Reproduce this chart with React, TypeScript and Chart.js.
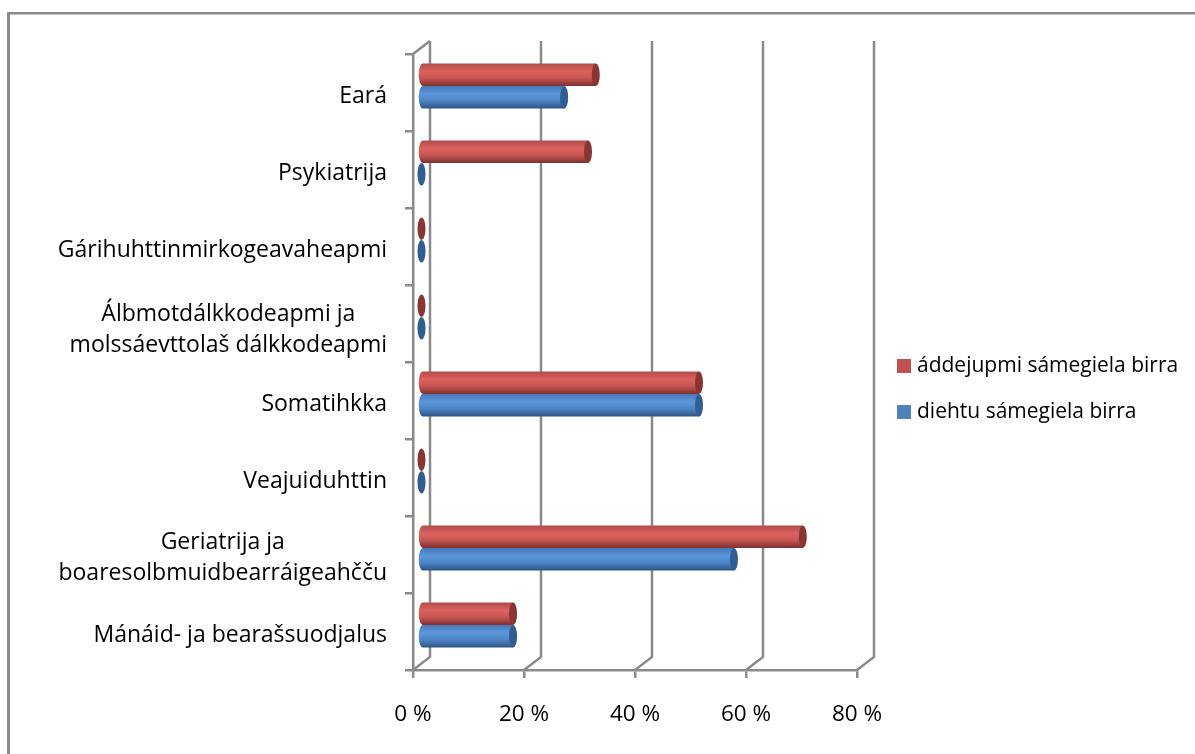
import React, { useEffect, useRef } from "react";
import { Chart, registerables } from "chart.js";

Chart.register(...registerables);

const categories: (string | string[])[] = [
  "Eará",
  "Psykiatrija",
  "Gárihuhttinmirkogeavaheapmi",
  ["Álbmotdálkkodeapmi ja", "molssáevttolaš dálkkodeapmi"],
  "Somatihkka",
  "Veajuiduhttin",
  ["Geriatrija ja", "boaresolbmuidbearráigeahčču"],
  "Mánáid- ja bearašsuodjalus",
];
const addedValues = [31.4, 30, 0, 0, 50, 0, 68.7, 16.5];
const knowledgeValues = [25.7, 0, 0, 0, 50, 0, 56.3, 16.5];
const seriesNames = ["áddejupmi sámegiela birra", "diehtu sámegiela birra"];
const tickValues = [0, 20, 40, 60, 80];

const FONT = "'Open Sans', Lato, sans-serif";
const AXIS_SIZE = 23;
const TICK_SIZE = 22.5;
const LEGEND_SIZE = 21;
const GRID = "#8a8a8a";
const DEPTH_X = 17;
const DEPTH_Y = -13;
const RX = 4;
const LABEL_NUDGE = [4, 4, 4, 6, 4, 4, 3, 4];

const palettes = [
  { stops: ["#b04d4b", "#dc615e", "#c85653", "#7d302e"], cap: "#8a3533", legend: "#c0504d" },
  { stops: ["#4679b8", "#5c96db", "#4d85c6", "#2e5485"], cap: "#305d92", legend: "#4f81bd" },
];

const plugin3d = {
  id: "plugin3d",
  beforeLayout(chart: any) {
    const legend = chart.legend;
    if (legend && !legend.__wrapped) {
      const fit = legend.fit.bind(legend);
      legend.fit = () => {
        fit();
        legend.width = 338;
      };
      legend.__wrapped = true;
    }
  },
  afterLayout(chart: any) {
    const legend = chart.legend;
    const pad = legend.options.labels.padding;
    const shift = 897 - pad - legend.left;
    legend.left += shift;
    legend.right += shift;
    legend.top -= 15;
    legend.bottom -= 15;
  },
  beforeDraw(chart: any) {
    const { ctx } = chart;
    ctx.save();
    ctx.fillStyle = "#ffffff";
    ctx.fillRect(0, 0, chart.width, chart.height);
    ctx.fillStyle = GRID;
    ctx.fillRect(7, 12, chart.width - 7, 2.5);
    ctx.fillRect(7, 12, 3, chart.height - 12);
    ctx.strokeStyle = GRID;
    ctx.lineWidth = 2.5;
    const { left, top, bottom } = chart.chartArea;
    const x = chart.scales.x;
    tickValues.forEach((v) => {
      const px = x.getPixelForValue(v);
      ctx.beginPath();
      ctx.moveTo(px, bottom);
      ctx.lineTo(px + DEPTH_X, bottom + DEPTH_Y);
      ctx.lineTo(px + DEPTH_X, top + DEPTH_Y);
      ctx.stroke();
    });
    ctx.beginPath();
    ctx.moveTo(left, top);
    ctx.lineTo(left + DEPTH_X, top + DEPTH_Y);
    ctx.stroke();
    ctx.restore();

    // centre the lines of two-line category labels, as the source does
    const y = chart.scales.y;
    const items = y.getLabelItems(chart.chartArea);
    items.forEach((item: any, i: number) => {
      item.options.translation = [item.options.translation[0], item.options.translation[1] + LABEL_NUDGE[i]];
      if (Array.isArray(item.label)) {
        ctx.save();
        ctx.font = item.font.string;
        const w = Math.max(...item.label.map((l: string) => ctx.measureText(l).width));
        ctx.restore();
        item.options.textAlign = "center";
        item.options.translation = [item.options.translation[0] - w / 2, item.options.translation[1]];
      }
    });
  },
  beforeDatasetsDraw(chart: any) {
    const { ctx } = chart;
    chart.data.datasets.forEach((_: any, di: number) => {
      const pal = palettes[di];
      chart.getDatasetMeta(di).data.forEach((el: any) => {
        const x0 = el.base + DEPTH_X / 2;
        const x1 = el.x + DEPTH_X / 2;
        const cy = el.y + DEPTH_Y / 2;
        const ry = el.height / 2;
        ctx.save();
        if (x1 - x0 > 0.5) {
          const g = ctx.createLinearGradient(0, cy - ry, 0, cy + ry);
          g.addColorStop(0, pal.stops[0]);
          g.addColorStop(0.35, pal.stops[1]);
          g.addColorStop(0.65, pal.stops[2]);
          g.addColorStop(1, pal.stops[3]);
          ctx.fillStyle = g;
          ctx.beginPath();
          ctx.ellipse(x0, cy, RX, ry, 0, Math.PI / 2, (Math.PI * 3) / 2);
          ctx.lineTo(x1, cy - ry);
          ctx.lineTo(x1, cy + ry);
          ctx.closePath();
          ctx.fill();
        }
        ctx.fillStyle = pal.cap;
        ctx.beginPath();
        ctx.ellipse(x1, cy, RX, ry, 0, 0, Math.PI * 2);
        ctx.fill();
        ctx.restore();
      });
    });
    return false;
  },
  afterDraw(chart: any) {
    // full-size legend swatches; the library's fixed box-to-text gap is too wide here
    const { ctx } = chart;
    const legend = chart.legend;
    legend.legendHitBoxes.forEach((hit: any, i: number) => {
      ctx.fillStyle = palettes[i].legend;
      ctx.fillRect(hit.left, hit.top + (LEGEND_SIZE - 14) / 2, 14, 14);
    });
  },
};

export default function App() {
  const ref = useRef<HTMLCanvasElement | null>(null);
  useEffect(() => {
    if (!ref.current) return;
    const chart = new Chart(ref.current, {
      type: "bar",
      data: {
        labels: categories as any,
        datasets: [
          { label: seriesNames[0], data: addedValues, backgroundColor: palettes[0].legend, borderWidth: 0 },
          { label: seriesNames[1], data: knowledgeValues, backgroundColor: palettes[1].legend, borderWidth: 0 },
        ],
      },
      options: {
        indexAxis: "y",
        responsive: false,
        animation: false,
        layout: { padding: { top: 54, left: 0, right: 0, bottom: 0 } },
        datasets: { bar: { categoryPercentage: 0.585, barPercentage: 1 } },
        plugins: {
          tooltip: { enabled: false },
          legend: {
            position: "right",
            labels: {
              boxWidth: 9.5,
              boxHeight: 10,
              padding: 46 - LEGEND_SIZE,
              color: "#000000",
              font: { family: FONT, size: LEGEND_SIZE },
            },
          },
        },
        scales: {
          x: {
            type: "linear",
            min: 0,
            max: 80,
            afterFit: (s: any) => {
              s.height = 84;
            },
            afterBuildTicks: (s: any) => {
              s.ticks = tickValues.map((value) => ({ value }));
            },
            ticks: {
              callback: (v: any) => `${v} %`,
              color: "#000000",
              font: { family: FONT, size: TICK_SIZE },
              padding: 23,
              maxRotation: 0,
            },
            grid: { drawOnChartArea: false, color: GRID, lineWidth: 2.5, tickLength: 8 },
            border: { color: GRID, width: 2.5 },
          },
          y: {
            type: "category",
            afterFit: (s: any) => {
              s.width = 413;
            },
            ticks: {
              color: "#000000",
              font: { family: FONT, size: AXIS_SIZE, lineHeight: 31 / AXIS_SIZE },
              padding: 18,
              autoSkip: false,
            },
            grid: { drawOnChartArea: false, color: GRID, lineWidth: 2.5, tickLength: 8 },
            border: { color: GRID, width: 2.5 },
          },
        },
      },
      plugins: [plugin3d],
    } as any);
    return () => chart.destroy();
  }, []);
  return (
    <canvas
      ref={ref}
      width={1195}
      height={754}
      style={{ position: "absolute", left: 0, top: 0, display: "block" }}
    />
  );
}
